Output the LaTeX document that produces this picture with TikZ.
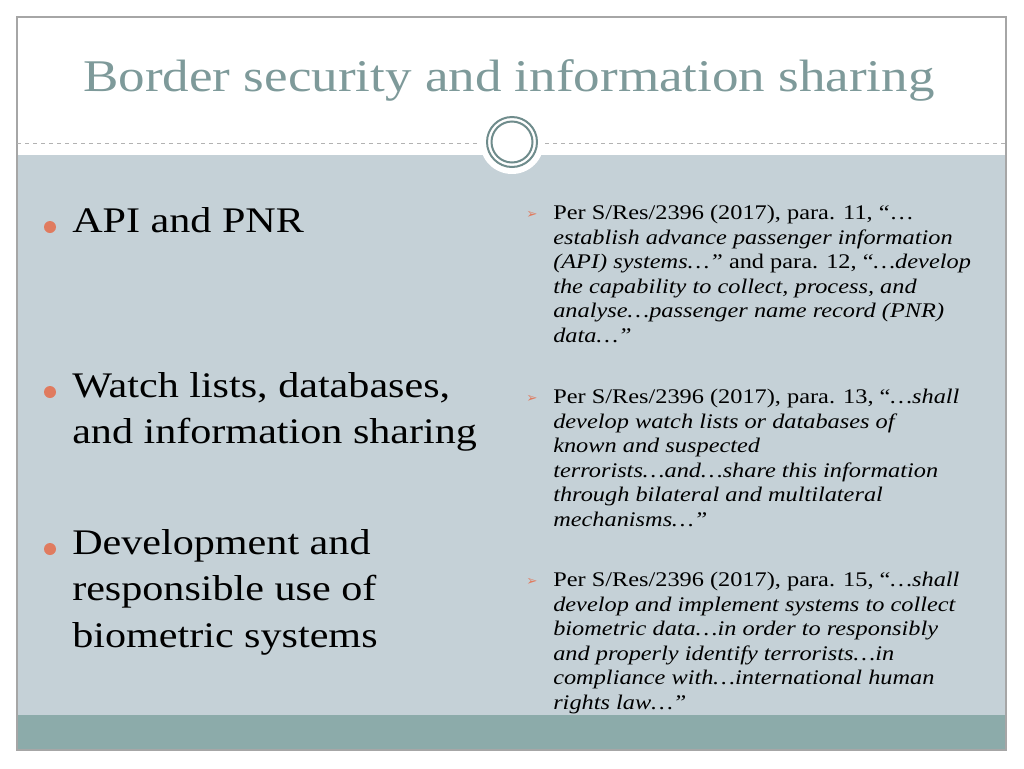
\documentclass[tikz,border=0pt]{standalone}
\usepackage{fontspec}
\setmainfont[FakeStretch=1.17]{Liberation Serif}
\newfontfamily\dv{DejaVu Sans}
\usetikzlibrary{arrows.meta}
\definecolor{bandc}{HTML}{C5D1D7}
\definecolor{footc}{HTML}{8CABAA}
\definecolor{titlec}{HTML}{7E9A9A}
\definecolor{ringc}{HTML}{6F8C8C}
\definecolor{bulc}{HTML}{E07B5F}
\tikzset{
  lefttxt/.style={anchor=north west,align=left,font=\fontsize{27}{35}\selectfont,inner sep=0},
  righttxt/.style={anchor=north west,align=left,font=\fontsize{15.6}{18.4}\selectfont,inner sep=0},
  dot/.style={circle,fill=bulc,inner sep=0,minimum size=9pt},
  arr/.style={inner sep=0,text=bulc,font=\dv\fontsize{10}{10}\selectfont}
}
\begin{document}
\begin{tikzpicture}[x=0.75pt,y=-0.75pt]
\useasboundingbox (0,0) rectangle (1024,768);
\fill[white] (0,0) rectangle (1024,768);
\fill[bandc] (17,155) rectangle (1006,715);
\fill[footc] (17,715) rectangle (1006,750);
\draw[gray!70,line width=0.8pt] (17,17) rectangle (1006,750);
\draw[gray!60,dashed,line width=0.6pt] (17,143) -- (1006,143);
\node[circle,fill=white,minimum size=48pt,inner sep=0] (disk) at (512,142) {};
\draw[ringc,line width=1.5pt] (disk.center) circle[radius=25];
\draw[ringc,line width=1.5pt] (disk.center) circle[radius=20.5];
\node[text=titlec,font=\fontsize{34}{40}\selectfont,inner sep=0] (title) at (509,80) {Border security and information sharing};

\node[dot] (d1) at (50,227) {};
\node[lefttxt] (l1) at (72,207) {API and PNR};
\node[dot] (d2) at (50,392) {};
\node[lefttxt] (l2) at (72,372) {Watch lists, databases,\\and information sharing};
\node[dot] (d3) at (50,549) {};
\node[lefttxt] (l3) at (72,529) {Development and\\responsible use of\\biometric systems};

\node[arr] (a1) at (532,215) {➢};
\node[righttxt] (r1) at (553,205) {Per S/Res/2396 (2017), para. 11, “…\\\textit{establish advance passenger information}\\\textit{(API) systems…”} and para. 12, “\textit{…develop}\\\textit{the capability to collect, process, and}\\\textit{analyse…passenger name record (PNR)}\\\textit{data…”}};
\node[arr] (a2) at (532,399) {➢};
\node[righttxt] (r2) at (553,389) {Per S/Res/2396 (2017), para. 13, “\textit{…shall}\\\textit{develop watch lists or databases of}\\\textit{known and suspected}\\\textit{terrorists…and…share this information}\\\textit{through bilateral and multilateral}\\\textit{mechanisms…”}};
\node[arr] (a3) at (532,582) {➢};
\node[righttxt] (r3) at (553,572) {Per S/Res/2396 (2017), para. 15, “\textit{…shall}\\\textit{develop and implement systems to collect}\\\textit{biometric data…in order to responsibly}\\\textit{and properly identify terrorists…in}\\\textit{compliance with…international human}\\\textit{rights law…”}};
\end{tikzpicture}
\end{document}
